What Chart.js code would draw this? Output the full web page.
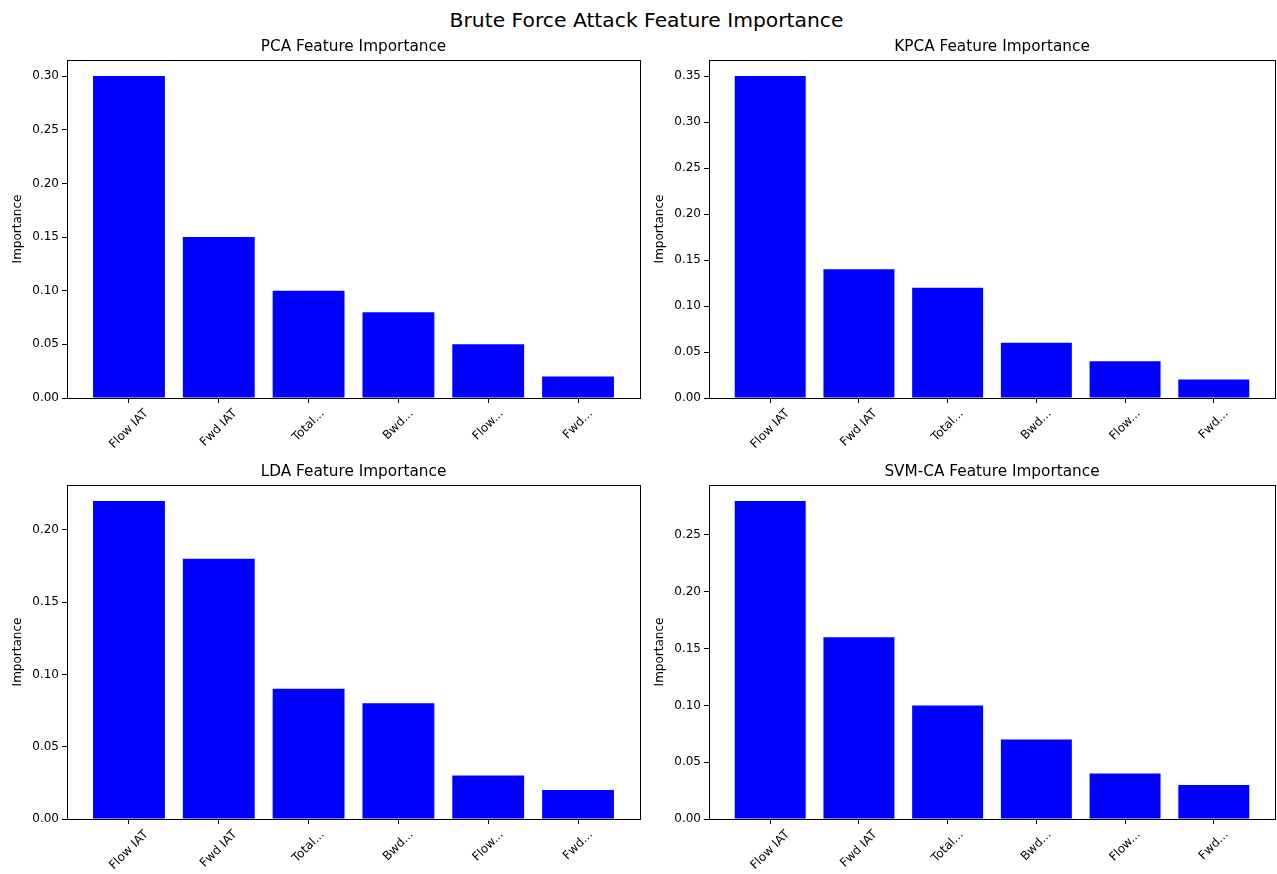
<!DOCTYPE html>
<html>
<head>
<meta charset="utf-8">
<script src="https://cdn.jsdelivr.net/npm/chart.js@4/dist/chart.umd.min.js"></script>
<style>
  html, body { margin: 0; padding: 0; background: #fff; }
  body { width: 1277px; height: 874px; position: relative; overflow: hidden; font-family: "DejaVu Sans", sans-serif; }
  #suptitle { position: absolute; left: 8px; width: 1277px; top: 8px; text-align: center; font-size: 20.3px; line-height: 24px; color: #000; }
  .cell { position: absolute; }
</style>
</head>
<body>
<div id="suptitle">Brute Force Attack Feature Importance</div>
<div class="cell" style="left:0px;top:30px;width:642px;height:423px"><canvas id="pcaChart"></canvas></div>
<div class="cell" style="left:642px;top:30px;width:635px;height:423px"><canvas id="kpcaChart"></canvas></div>
<div class="cell" style="left:0px;top:455px;width:642px;height:419px"><canvas id="ldaChart"></canvas></div>
<div class="cell" style="left:642px;top:455px;width:635px;height:419px"><canvas id="svmChart"></canvas></div>
<script>
const features = ["Flow IAT", "Fwd IAT", "Total...", "Bwd...", "Flow...", "Fwd..."];
const pcaValues = [0.30, 0.15, 0.10, 0.08, 0.05, 0.02];
const kpcaValues = [0.35, 0.14, 0.12, 0.06, 0.04, 0.02];
const ldaValues = [0.22, 0.18, 0.09, 0.08, 0.03, 0.02];
const svmValues = [0.28, 0.16, 0.10, 0.07, 0.04, 0.03];

const FONT = "DejaVu Sans, sans-serif";
const TICK_SIZE = 12;
Chart.defaults.font.family = FONT;
Chart.defaults.color = "#000";

// matplotlib-like frame, axes title and centred, rotated category labels
const mplPlugin = {
  id: "mpl",
  afterDraw(chart, args, opts) {
    const ctx = chart.ctx;
    const a = chart.chartArea;
    ctx.save();
    ctx.strokeStyle = "#000";
    ctx.lineWidth = 1;
    ctx.strokeRect(Math.round(a.left) + 0.5, Math.round(a.top) + 0.5,
      Math.round(a.right - a.left), Math.round(a.bottom - a.top));

    ctx.fillStyle = "#000";
    ctx.textAlign = "center";
    ctx.textBaseline = "middle";
    ctx.font = "15.3px " + FONT;
    ctx.fillText(opts.title, (a.left + a.right) / 2, a.top - 13);

    const x = chart.scales.x;
    ctx.font = TICK_SIZE + "px " + FONT;
    const s = Math.SQRT1_2;
    features.forEach((name, i) => {
      const px = x.getPixelForValue(i);
      const w = ctx.measureText(name).width;
      const h = (w + TICK_SIZE * 1.1) * s;
      const top = a.bottom + 9;
      ctx.save();
      ctx.translate(px, top + h / 2);
      ctx.rotate(-Math.PI / 4);
      ctx.fillText(name, 0, 0);
      ctx.restore();
    });
    ctx.restore();
  }
};

function makeChart(id, title, values) {
  const points = values.map((v, i) => ({ x: i, y: v }));
  const yMax = Math.max(...values) * 1.05;
  new Chart(document.getElementById(id), {
    type: "bar",
    data: {
      datasets: [{
        data: points,
        backgroundColor: "#0000ff",
        borderWidth: 0,
        inflateAmount: 0,
        categoryPercentage: 1,
        barPercentage: 0.8
      }]
    },
    options: {
      responsive: true,
      maintainAspectRatio: false,
      animation: false,
      layout: { padding: { left: 0, right: 2, top: 30, bottom: 0 } },
      plugins: {
        legend: { display: false },
        tooltip: { enabled: false },
        title: { display: false },
        mpl: { title: title }
      },
      scales: {
        x: {
          type: "linear",
          min: -0.69,
          max: 5.69,
          offset: false,
          afterBuildTicks: (s) => { s.ticks = features.map((_, i) => ({ value: i })); },
          afterFit: (s) => { s.height = 55; },
          ticks: { display: false },
          grid: { offset: false, drawOnChartArea: false, drawTicks: true, tickLength: 5, color: "#000" },
          border: { color: "#000" }
        },
        y: {
          min: 0,
          max: yMax,
          afterBuildTicks: (s) => {
            s.ticks = s.ticks.filter(t => Math.abs(t.value / 0.05 - Math.round(t.value / 0.05)) < 1e-6);
          },
          afterFit: (s) => { s.width = 67; },
          ticks: {
            stepSize: 0.05,
            padding: 3,
            color: "#000",
            font: { size: TICK_SIZE, family: FONT },
            callback: (v) => v.toFixed(2)
          },
          grid: { drawOnChartArea: false, drawTicks: true, tickLength: 5, color: "#000" },
          border: { color: "#000" },
          title: {
            display: true,
            text: "Importance",
            color: "#000",
            font: { size: 12, family: FONT },
            padding: { top: 11, bottom: 0 }
          }
        }
      }
    },
    plugins: [mplPlugin]
  });
}

makeChart("pcaChart", "PCA Feature Importance", pcaValues);
makeChart("kpcaChart", "KPCA Feature Importance", kpcaValues);
makeChart("ldaChart", "LDA Feature Importance", ldaValues);
makeChart("svmChart", "SVM-CA Feature Importance", svmValues);
</script>
</body>
</html>
